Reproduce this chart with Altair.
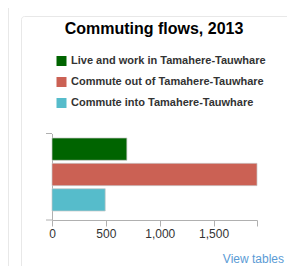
import altair as alt
import pandas as pd

categories = ["Live and work in Tamahere-Tauwhare",
              "Commute out of Tamahere-Tauwhare",
              "Commute into Tamahere-Tauwhare"]
values = [695, 1903, 494]
colors = ["#006400", "#CB6154", "#56BCCB"]
x_ticks = [0, 500, 1000, 1500]
title_text = "Commuting flows, 2013"
link_text = "View tables"

FONT = "Liberation Sans"
W, H = 205, 86.5

df = pd.DataFrame({"category": categories, "value": values})
one = pd.DataFrame({"k": [0]})

bars = alt.Chart(df).mark_bar(stroke="#c8c8c8", strokeWidth=1, strokeOpacity=0.7).encode(
    x=alt.X("value:Q",
            scale=alt.Scale(domain=[0, max(values)], nice=False, zero=True),
            axis=alt.Axis(values=x_ticks + [max(values)], format=",d",
                          labelExpr="datum.value > 1600 ? '' : datum.label",
                          grid=False, title=None, tickSize=6, labelPadding=2,
                          domainColor="#b0b0b0", tickColor="#b0b0b0",
                          labelFont=FONT, labelFontSize=12, labelColor="#333333",
                          labelFlush=False)),
    y=alt.Y("category:N", sort=categories,
            scale=alt.Scale(domain=categories, paddingInner=0.12,
                            paddingOuter=0.266, align=0.333),
            axis=alt.Axis(labels=False, ticks=False, title=None,
                          domainColor="#b0b0b0")),
    color=alt.Color("category:N",
                    scale=alt.Scale(domain=categories, range=colors),
                    legend=alt.Legend(orient="none", legendX=4, legendY=-78,
                                      title=None, symbolType="square",
                                      symbolSize=100, symbolStrokeWidth=0,
                                      labelFont=FONT, labelFontSize=11,
                                      labelFontWeight="bold", labelColor="#333333",
                                      labelOffset=4, rowPadding=9, padding=0,
                                      labelLimit=400,
                                      direction="vertical")),
)

tick_top = alt.Chart(one).mark_rule(color="#b0b0b0").encode(
    x=alt.value(-6), x2=alt.value(0), y=alt.value(0))
tick_bot = alt.Chart(one).mark_rule(color="#b0b0b0").encode(
    x=alt.value(-6), x2=alt.value(0), y=alt.value(H))

outer_card = alt.Chart(one).mark_rect(fill=None, stroke="#e8e8e8", strokeWidth=1,
                                      cornerRadius=3).encode(
    x=alt.value(-43.5), x2=alt.value(300), y=alt.value(-130), y2=alt.value(200))
inner_card = alt.Chart(one).mark_rect(fill=None, stroke="#e8e8e8", strokeWidth=1,
                                      cornerRadius=3).encode(
    x=alt.value(-30.5), x2=alt.value(240), y=alt.value(-117), y2=alt.value(140.5))

title = alt.Chart(one).mark_text(text=title_text, font=FONT, fontSize=16,
                                 fontWeight="bold", color="#000000",
                                 align="center", baseline="alphabetic").encode(
    x=alt.value(102), y=alt.value(-100))

link = alt.Chart(one).mark_text(text=link_text, font=FONT, fontSize=12,
                                color="#5b9bd5", align="right",
                                baseline="alphabetic").encode(
    x=alt.value(232), y=alt.value(129))

chart = alt.layer(outer_card, inner_card, title, link, bars, tick_top, tick_bot).properties(
    width=W, height=H,
    autosize="none",
    padding={"left": 44, "top": 125.5, "right": 30, "bottom": 46},
).configure_view(stroke=None)

chart.save("out.html", embed_options={"renderer": "svg", "actions": False})
